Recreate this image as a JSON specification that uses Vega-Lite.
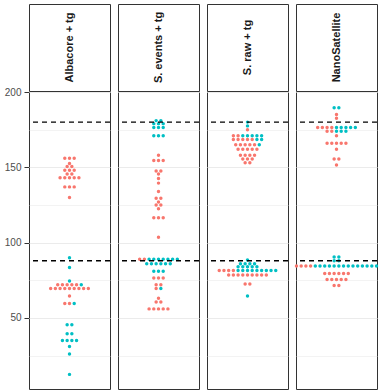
{
  "$schema": "https://vega.github.io/schema/vega-lite/v6.json",
  "padding": {"left": 4, "top": 3, "right": 4, "bottom": 4},
  "spacing": -6,
  "config": {
    "view": {"stroke": "#333333", "strokeWidth": 1, "fill": "white"},
    "axis": {"labelFont": "Liberation Sans", "labelFontSize": 10, "labelColor": "#4D4D4D", "tickColor": "#333333", "domain": false, "tickSize": 5, "labelPadding": 3, "minExtent": 25, "maxExtent": 25}
  },
  "vconcat": [
    {
      "data": {"values": [{"panel": "Albacore + tg"}, {"panel": "S. events + tg"}, {"panel": "S. raw + tg"}, {"panel": "NanoSatellite"}]},
      "facet": {"column": {"field": "panel", "sort": ["Albacore + tg", "S. events + tg", "S. raw + tg", "NanoSatellite"], "header": null}},
      "spacing": 8,
      "bounds": "flush",
      "spec": {
        "width": 81,
        "height": 87,
        "mark": {"type": "text", "angle": 270, "fontWeight": "bold", "fontSize": 11, "font": "Liberation Sans", "color": "#1A1A1A"},
        "encoding": {
          "text": {"field": "panel"},
          "y": {"datum": "s", "type": "nominal", "axis": {"title": null, "labelExpr": "'200'", "labelOpacity": 0, "tickOpacity": 0, "grid": false}}
        }
      }
    },
    {
      "data": {"values": [
        {"panel":"Albacore + tg","g":"a","v":156},{"panel":"Albacore + tg","g":"a","v":156},{"panel":"Albacore + tg","g":"a","v":156},
        {"panel":"Albacore + tg","g":"a","v":152.5},
        {"panel":"Albacore + tg","g":"a","v":150.5},{"panel":"Albacore + tg","g":"a","v":150.5},
        {"panel":"Albacore + tg","g":"a","v":148},{"panel":"Albacore + tg","g":"a","v":148},{"panel":"Albacore + tg","g":"a","v":148},
        {"panel":"Albacore + tg","g":"a","v":145.5},{"panel":"Albacore + tg","g":"a","v":145.5},
        {"panel":"Albacore + tg","g":"a","v":143},{"panel":"Albacore + tg","g":"a","v":143},{"panel":"Albacore + tg","g":"a","v":143},{"panel":"Albacore + tg","g":"a","v":143},{"panel":"Albacore + tg","g":"a","v":143},
        {"panel":"Albacore + tg","g":"a","v":137},{"panel":"Albacore + tg","g":"a","v":137},{"panel":"Albacore + tg","g":"a","v":137},
        {"panel":"Albacore + tg","g":"a","v":130},
        {"panel":"Albacore + tg","g":"a","v":72},{"panel":"Albacore + tg","g":"a","v":72},{"panel":"Albacore + tg","g":"a","v":72},{"panel":"Albacore + tg","g":"a","v":72},{"panel":"Albacore + tg","g":"a","v":72},
        {"panel":"Albacore + tg","g":"a","v":69.5},{"panel":"Albacore + tg","g":"a","v":69.5},{"panel":"Albacore + tg","g":"a","v":69.5},{"panel":"Albacore + tg","g":"a","v":69.5},{"panel":"Albacore + tg","g":"a","v":69.5},{"panel":"Albacore + tg","g":"a","v":69.5},{"panel":"Albacore + tg","g":"a","v":69.5},{"panel":"Albacore + tg","g":"a","v":69.5},{"panel":"Albacore + tg","g":"a","v":69.5},
        {"panel":"Albacore + tg","g":"a","v":64.5},
        {"panel":"Albacore + tg","g":"a","v":59.5},{"panel":"Albacore + tg","g":"a","v":59.5},
        {"panel":"Albacore + tg","g":"b","v":90},
        {"panel":"Albacore + tg","g":"b","v":83.5},
        {"panel":"Albacore + tg","g":"b","v":74.5},
        {"panel":"Albacore + tg","g":"b","v":72},
        {"panel":"Albacore + tg","g":"b","v":59.5},
        {"panel":"Albacore + tg","g":"b","v":45.5},{"panel":"Albacore + tg","g":"b","v":45.5},
        {"panel":"Albacore + tg","g":"b","v":39.5},{"panel":"Albacore + tg","g":"b","v":39.5},
        {"panel":"Albacore + tg","g":"b","v":35},{"panel":"Albacore + tg","g":"b","v":35},{"panel":"Albacore + tg","g":"b","v":35},{"panel":"Albacore + tg","g":"b","v":35},
        {"panel":"Albacore + tg","g":"b","v":31},
        {"panel":"Albacore + tg","g":"b","v":26},
        {"panel":"Albacore + tg","g":"b","v":12.5},

        {"panel":"S. events + tg","g":"b","v":181},{"panel":"S. events + tg","g":"b","v":181},
        {"panel":"S. events + tg","g":"b","v":179},{"panel":"S. events + tg","g":"b","v":179},{"panel":"S. events + tg","g":"b","v":179},
        {"panel":"S. events + tg","g":"b","v":176.5},{"panel":"S. events + tg","g":"b","v":176.5},{"panel":"S. events + tg","g":"b","v":176.5},
        {"panel":"S. events + tg","g":"b","v":171},{"panel":"S. events + tg","g":"b","v":171},{"panel":"S. events + tg","g":"b","v":171},
        {"panel":"S. events + tg","g":"a","v":158},
        {"panel":"S. events + tg","g":"a","v":154.5},{"panel":"S. events + tg","g":"a","v":154.5},{"panel":"S. events + tg","g":"a","v":154.5},
        {"panel":"S. events + tg","g":"a","v":147.5},{"panel":"S. events + tg","g":"a","v":147.5},
        {"panel":"S. events + tg","g":"a","v":145.5},
        {"panel":"S. events + tg","g":"a","v":142.5},
        {"panel":"S. events + tg","g":"a","v":139.5},
        {"panel":"S. events + tg","g":"a","v":134},
        {"panel":"S. events + tg","g":"a","v":129.5},{"panel":"S. events + tg","g":"a","v":129.5},
        {"panel":"S. events + tg","g":"a","v":127},
        {"panel":"S. events + tg","g":"a","v":125},{"panel":"S. events + tg","g":"a","v":125},
        {"panel":"S. events + tg","g":"a","v":122.5},
        {"panel":"S. events + tg","g":"a","v":116.5},{"panel":"S. events + tg","g":"a","v":116.5},{"panel":"S. events + tg","g":"a","v":116.5},
        {"panel":"S. events + tg","g":"a","v":103.5},
        {"panel":"S. events + tg","g":"a","v":89},{"panel":"S. events + tg","g":"a","v":89},
        {"panel":"S. events + tg","g":"b","v":89},{"panel":"S. events + tg","g":"b","v":89},{"panel":"S. events + tg","g":"b","v":89},{"panel":"S. events + tg","g":"b","v":89},{"panel":"S. events + tg","g":"b","v":89},{"panel":"S. events + tg","g":"b","v":89},{"panel":"S. events + tg","g":"b","v":89},
        {"panel":"S. events + tg","g":"b","v":86},{"panel":"S. events + tg","g":"b","v":86},{"panel":"S. events + tg","g":"b","v":86},{"panel":"S. events + tg","g":"b","v":86},{"panel":"S. events + tg","g":"b","v":86},{"panel":"S. events + tg","g":"b","v":86},
        {"panel":"S. events + tg","g":"b","v":81},{"panel":"S. events + tg","g":"b","v":81},{"panel":"S. events + tg","g":"b","v":81},
        {"panel":"S. events + tg","g":"a","v":76.5},{"panel":"S. events + tg","g":"a","v":76.5},{"panel":"S. events + tg","g":"a","v":76.5},
        {"panel":"S. events + tg","g":"a","v":72},{"panel":"S. events + tg","g":"a","v":72},
        {"panel":"S. events + tg","g":"a","v":69.5},{"panel":"S. events + tg","g":"b","v":69.5},
        {"panel":"S. events + tg","g":"a","v":63},
        {"panel":"S. events + tg","g":"a","v":60.5},{"panel":"S. events + tg","g":"a","v":60.5},
        {"panel":"S. events + tg","g":"a","v":56},{"panel":"S. events + tg","g":"a","v":56},{"panel":"S. events + tg","g":"a","v":56},{"panel":"S. events + tg","g":"a","v":56},{"panel":"S. events + tg","g":"a","v":56},

        {"panel":"S. raw + tg","g":"b","v":180},
        {"panel":"S. raw + tg","g":"b","v":177.5},
        {"panel":"S. raw + tg","g":"a","v":175},
        {"panel":"S. raw + tg","g":"a","v":171},{"panel":"S. raw + tg","g":"a","v":171},
        {"panel":"S. raw + tg","g":"b","v":171},{"panel":"S. raw + tg","g":"b","v":171},{"panel":"S. raw + tg","g":"b","v":171},{"panel":"S. raw + tg","g":"b","v":171},{"panel":"S. raw + tg","g":"b","v":171},
        {"panel":"S. raw + tg","g":"a","v":168.5},{"panel":"S. raw + tg","g":"a","v":168.5},{"panel":"S. raw + tg","g":"a","v":168.5},{"panel":"S. raw + tg","g":"a","v":168.5},{"panel":"S. raw + tg","g":"a","v":168.5},
        {"panel":"S. raw + tg","g":"b","v":168.5},{"panel":"S. raw + tg","g":"b","v":168.5},
        {"panel":"S. raw + tg","g":"a","v":165},{"panel":"S. raw + tg","g":"a","v":165},{"panel":"S. raw + tg","g":"a","v":165},{"panel":"S. raw + tg","g":"a","v":165},{"panel":"S. raw + tg","g":"a","v":165},
        {"panel":"S. raw + tg","g":"b","v":165},
        {"panel":"S. raw + tg","g":"a","v":162},{"panel":"S. raw + tg","g":"a","v":162},{"panel":"S. raw + tg","g":"a","v":162},{"panel":"S. raw + tg","g":"a","v":162},{"panel":"S. raw + tg","g":"a","v":162},
        {"panel":"S. raw + tg","g":"a","v":158},{"panel":"S. raw + tg","g":"a","v":158},{"panel":"S. raw + tg","g":"a","v":158},{"panel":"S. raw + tg","g":"a","v":158},
        {"panel":"S. raw + tg","g":"a","v":155.5},{"panel":"S. raw + tg","g":"a","v":155.5},{"panel":"S. raw + tg","g":"a","v":155.5},
        {"panel":"S. raw + tg","g":"a","v":153},{"panel":"S. raw + tg","g":"a","v":153},
        {"panel":"S. raw + tg","g":"b","v":88.5},
        {"panel":"S. raw + tg","g":"b","v":86},{"panel":"S. raw + tg","g":"b","v":86},{"panel":"S. raw + tg","g":"b","v":86},{"panel":"S. raw + tg","g":"b","v":86},
        {"panel":"S. raw + tg","g":"b","v":84},{"panel":"S. raw + tg","g":"b","v":84},{"panel":"S. raw + tg","g":"b","v":84},{"panel":"S. raw + tg","g":"b","v":84},{"panel":"S. raw + tg","g":"b","v":84},
        {"panel":"S. raw + tg","g":"a","v":81.5},{"panel":"S. raw + tg","g":"a","v":81.5},{"panel":"S. raw + tg","g":"a","v":81.5},{"panel":"S. raw + tg","g":"a","v":81.5},
        {"panel":"S. raw + tg","g":"b","v":81.5},{"panel":"S. raw + tg","g":"b","v":81.5},{"panel":"S. raw + tg","g":"b","v":81.5},{"panel":"S. raw + tg","g":"b","v":81.5},{"panel":"S. raw + tg","g":"b","v":81.5},{"panel":"S. raw + tg","g":"b","v":81.5},{"panel":"S. raw + tg","g":"b","v":81.5},{"panel":"S. raw + tg","g":"b","v":81.5},{"panel":"S. raw + tg","g":"b","v":81.5},
        {"panel":"S. raw + tg","g":"a","v":78.5},{"panel":"S. raw + tg","g":"a","v":78.5},{"panel":"S. raw + tg","g":"a","v":78.5},{"panel":"S. raw + tg","g":"a","v":78.5},{"panel":"S. raw + tg","g":"a","v":78.5},{"panel":"S. raw + tg","g":"a","v":78.5},{"panel":"S. raw + tg","g":"a","v":78.5},{"panel":"S. raw + tg","g":"a","v":78.5},{"panel":"S. raw + tg","g":"a","v":78.5},
        {"panel":"S. raw + tg","g":"a","v":72.5},{"panel":"S. raw + tg","g":"a","v":72.5},
        {"panel":"S. raw + tg","g":"b","v":64.5},

        {"panel":"NanoSatellite","g":"b","v":189.5},{"panel":"NanoSatellite","g":"b","v":189.5},
        {"panel":"NanoSatellite","g":"a","v":185},
        {"panel":"NanoSatellite","g":"a","v":182.5},
        {"panel":"NanoSatellite","g":"a","v":176.5},{"panel":"NanoSatellite","g":"a","v":176.5},{"panel":"NanoSatellite","g":"a","v":176.5},{"panel":"NanoSatellite","g":"a","v":176.5},
        {"panel":"NanoSatellite","g":"b","v":176.5},{"panel":"NanoSatellite","g":"b","v":176.5},{"panel":"NanoSatellite","g":"b","v":176.5},{"panel":"NanoSatellite","g":"b","v":176.5},{"panel":"NanoSatellite","g":"b","v":176.5},
        {"panel":"NanoSatellite","g":"a","v":174},{"panel":"NanoSatellite","g":"a","v":174},
        {"panel":"NanoSatellite","g":"b","v":174},{"panel":"NanoSatellite","g":"b","v":174},{"panel":"NanoSatellite","g":"b","v":174},
        {"panel":"NanoSatellite","g":"a","v":171},
        {"panel":"NanoSatellite","g":"a","v":166},{"panel":"NanoSatellite","g":"a","v":166},{"panel":"NanoSatellite","g":"a","v":166},{"panel":"NanoSatellite","g":"a","v":166},{"panel":"NanoSatellite","g":"a","v":166},
        {"panel":"NanoSatellite","g":"a","v":162},
        {"panel":"NanoSatellite","g":"a","v":155.5},{"panel":"NanoSatellite","g":"a","v":155.5},
        {"panel":"NanoSatellite","g":"a","v":151.5},
        {"panel":"NanoSatellite","g":"b","v":90.5},{"panel":"NanoSatellite","g":"b","v":90.5},
        {"panel":"NanoSatellite","g":"b","v":88},{"panel":"NanoSatellite","g":"b","v":88},
        {"panel":"NanoSatellite","g":"a","v":84.5},{"panel":"NanoSatellite","g":"a","v":84.5},{"panel":"NanoSatellite","g":"a","v":84.5},{"panel":"NanoSatellite","g":"a","v":84.5},
        {"panel":"NanoSatellite","g":"b","v":84.5},{"panel":"NanoSatellite","g":"b","v":84.5},{"panel":"NanoSatellite","g":"b","v":84.5},{"panel":"NanoSatellite","g":"b","v":84.5},{"panel":"NanoSatellite","g":"b","v":84.5},{"panel":"NanoSatellite","g":"b","v":84.5},{"panel":"NanoSatellite","g":"b","v":84.5},
        {"panel":"NanoSatellite","g":"b","v":84.5},{"panel":"NanoSatellite","g":"b","v":84.5},{"panel":"NanoSatellite","g":"b","v":84.5},{"panel":"NanoSatellite","g":"b","v":84.5},{"panel":"NanoSatellite","g":"b","v":84.5},{"panel":"NanoSatellite","g":"b","v":84.5},{"panel":"NanoSatellite","g":"b","v":84.5},
        {"panel":"NanoSatellite","g":"a","v":79.5},{"panel":"NanoSatellite","g":"a","v":79.5},{"panel":"NanoSatellite","g":"a","v":79.5},{"panel":"NanoSatellite","g":"a","v":79.5},{"panel":"NanoSatellite","g":"a","v":79.5},{"panel":"NanoSatellite","g":"a","v":79.5},
        {"panel":"NanoSatellite","g":"a","v":75.5},{"panel":"NanoSatellite","g":"a","v":75.5},{"panel":"NanoSatellite","g":"a","v":75.5},{"panel":"NanoSatellite","g":"a","v":75.5},{"panel":"NanoSatellite","g":"a","v":75.5},
        {"panel":"NanoSatellite","g":"a","v":71.5},{"panel":"NanoSatellite","g":"a","v":71.5},

        {"panel":"Albacore + tg","ref":180},{"panel":"Albacore + tg","ref":88},
        {"panel":"S. events + tg","ref":180},{"panel":"S. events + tg","ref":88},
        {"panel":"S. raw + tg","ref":180},{"panel":"S. raw + tg","ref":88},
        {"panel":"NanoSatellite","ref":180},{"panel":"NanoSatellite","ref":88}
      ]},
      "facet": {"column": {"field": "panel", "sort": ["Albacore + tg", "S. events + tg", "S. raw + tg", "NanoSatellite"], "header": null}},
      "spacing": 8,
      "bounds": "flush",
      "spec": {
        "width": 81,
        "height": 297,
        "layer": [
          {
            "transform": [
              {"filter": "isValid(datum.v)"},
              {"window": [{"op": "row_number", "as": "rank"}], "groupby": ["panel", "v"], "sort": [{"field": "g"}]},
              {"joinaggregate": [{"op": "count", "as": "n"}], "groupby": ["panel", "v"]},
              {"calculate": "datum.rank - (datum.n + 1) / 2", "as": "off"}
            ],
            "mark": {"type": "circle", "size": 12, "opacity": 1},
            "encoding": {
              "x": {"field": "off", "type": "quantitative", "scale": {"domain": [-8.6, 8.6]}, "axis": null},
              "y": {"field": "v", "type": "quantitative", "scale": {"domain": [2.8, 200], "nice": false, "zero": false},
                    "axis": {"title": null, "values": [25, 50, 75, 100, 125, 150, 175, 200],
                             "labelExpr": "datum.value % 50 === 0 ? datum.label : ''",
                             "tickOpacity": {"condition": {"test": "datum.value % 50 === 0", "value": 1}, "value": 0},
                             "grid": true, "gridColor": "#EBEBEB",
                             "gridWidth": {"condition": {"test": "datum.value % 50 === 0", "value": 1}, "value": 0.6}}},
              "color": {"field": "g", "type": "nominal", "scale": {"domain": ["a", "b"], "range": ["#F8766D", "#00BFC4"]}, "legend": null}
            }
          },
          {
            "transform": [{"filter": "isValid(datum.ref)"}],
            "mark": {"type": "rule", "color": "black", "strokeDash": [5, 4], "strokeWidth": 1.4},
            "encoding": {
              "y": {"field": "ref", "type": "quantitative", "axis": {"title": null}}
            }
          }
        ]
      }
    }
  ]
}
